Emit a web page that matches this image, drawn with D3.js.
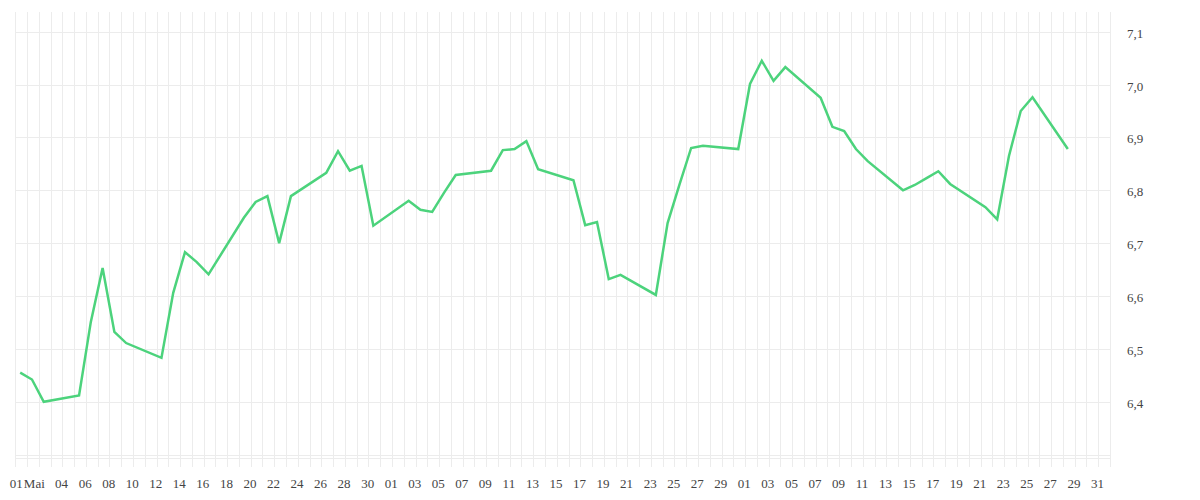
<!DOCTYPE html>
<html>
<head>
<meta charset="utf-8">
<script src="https://cdn.jsdelivr.net/npm/d3@7"></script>
<style>
  html, body { margin: 0; padding: 0; background: #ffffff; }
  svg { display: block; }
  text { font-family: "Liberation Serif", serif; font-size: 13px; fill: #444; }
</style>
</head>
<body>
<svg id="chart" width="1200" height="500"></svg>
<script>
// ---- data ----
const dates = [
  "2025-04-30","2025-05-01","2025-05-02",
  "2025-05-05","2025-05-06","2025-05-07","2025-05-08","2025-05-09",
  "2025-05-12","2025-05-13","2025-05-14","2025-05-15","2025-05-16",
  "2025-05-19","2025-05-20","2025-05-21","2025-05-22","2025-05-23",
  "2025-05-26","2025-05-27","2025-05-28","2025-05-29","2025-05-30",
  "2025-06-02","2025-06-03","2025-06-04","2025-06-05","2025-06-06",
  "2025-06-09","2025-06-10","2025-06-11","2025-06-12","2025-06-13",
  "2025-06-16","2025-06-17","2025-06-18","2025-06-19","2025-06-20",
  "2025-06-23","2025-06-24","2025-06-25","2025-06-26","2025-06-27",
  "2025-06-30","2025-07-01","2025-07-02","2025-07-03","2025-07-04",
  "2025-07-07","2025-07-08","2025-07-09","2025-07-10","2025-07-11",
  "2025-07-14","2025-07-15","2025-07-16","2025-07-17","2025-07-18",
  "2025-07-21","2025-07-22","2025-07-23","2025-07-24","2025-07-25",
  "2025-07-28"
];
const values = [
  6.455, 6.442, 6.400,
  6.412, 6.551, 6.653, 6.532, 6.511,
  6.483, 6.606, 6.683, 6.664, 6.641,
  6.748, 6.778, 6.789, 6.700, 6.789,
  6.833, 6.874, 6.837, 6.846, 6.733,
  6.780, 6.763, 6.759, 6.795, 6.829,
  6.837, 6.876, 6.878, 6.893, 6.840,
  6.819, 6.734, 6.740, 6.632, 6.640,
  6.602, 6.738, 6.810, 6.880, 6.884,
  6.878, 7.001, 7.045, 7.007, 7.033,
  6.975, 6.920, 6.912, 6.878, 6.855,
  6.800, 6.810, 6.823, 6.836, 6.812,
  6.768, 6.745, 6.865, 6.950, 6.976,
  6.878
];
const yTicks = [6.3, 6.4, 6.5, 6.6, 6.7, 6.8, 6.9, 7.0, 7.1];
const yTickLabels = ["", "6,4", "6,5", "6,6", "6,7", "6,8", "6,9", "7,0", "7,1"];
const xTickLabels = [
  "01","Mai","04","06","08","10","12","14","16","18","20","22","24","26","28","30",
  "01","03","05","07","09","11","13","15","17","19","21","23","25","27","29",
  "01","03","05","07","09","11","13","15","17","19","21","23","25","27","29","31"
];

// ---- layout ----
const svg = d3.select("#chart");
const parse = d3.timeParse("%Y-%m-%d");
const startDate = parse("2025-04-30");
const endDate = parse("2025-08-01");
const plotLeft = 15.3, plotRight = 1110, plotTop = 21, plotBottom = 458.3;

const x = d3.scaleTime().domain([startDate, endDate]).range([plotLeft, plotRight]);
const y = d3.scaleLinear().domain([6.293, 7.1202]).range([plotBottom, plotTop]);

const grid = svg.append("g").attr("stroke", "#ececec").attr("stroke-width", 1).attr("shape-rendering", "crispEdges");

// vertical day grid
const days = d3.timeDay.range(startDate, d3.timeDay.offset(endDate, 1));
grid.selectAll("line.v").data(days).join("line")
  .attr("class", "v")
  .attr("x1", d => Math.round(x(d)) + 0.5).attr("x2", d => Math.round(x(d)) + 0.5)
  .attr("y1", 12).attr("y2", 467);

// horizontal grid
grid.selectAll("line.h").data(yTicks).join("line")
  .attr("class", "h")
  .attr("x1", plotLeft).attr("x2", plotRight)
  .attr("y1", d => Math.round(y(d)) + 0.5).attr("y2", d => Math.round(y(d)) + 0.5);
grid.append("line")
  .attr("x1", plotLeft).attr("x2", plotRight)
  .attr("y1", Math.round(plotBottom) + 0.5).attr("y2", Math.round(plotBottom) + 0.5);

// y labels (right)
svg.append("g").selectAll("text").data(yTicks).join("text")
  .attr("x", 1127)
  .attr("y", d => y(d) + 6)
  .attr("text-anchor", "start")
  .text((d, i) => yTickLabels[i]);

// x labels
const tickDates = d3.timeDay.range(startDate, endDate, 2);
svg.append("g").selectAll("text").data(tickDates).join("text")
  .attr("x", (d, i) => x(d) + (i === 0 ? 1 : (i === 1 ? -4.5 : -0.8)))
  .attr("y", 488)
  .attr("text-anchor", "middle")
  .text((d, i) => xTickLabels[i]);

// line
const pts = dates.map((d, i) => ({ t: d3.timeHour.offset(parse(d), 10.5), v: values[i] }));
const line = d3.line().x(d => x(d.t)).y(d => y(d.v));
svg.append("path")
  .datum(pts)
  .attr("fill", "none")
  .attr("stroke", "#4cd37c")
  .attr("stroke-width", 2.5)
  .attr("stroke-linejoin", "miter")
  .attr("d", line);
</script>
</body>
</html>
